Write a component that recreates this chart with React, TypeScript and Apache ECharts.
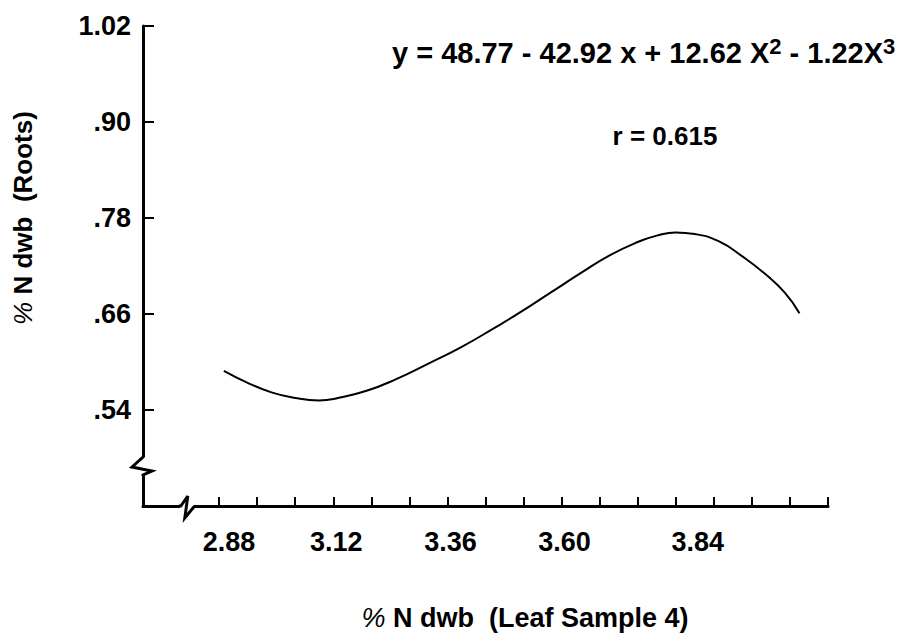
import React, { useEffect, useRef } from 'react';
import * as echarts from 'echarts';

// ---- data ----
const xTickValues = [2.88, 2.96, 3.04, 3.12, 3.2, 3.28, 3.36, 3.44, 3.52, 3.6, 3.68, 3.76, 3.84, 3.92, 4.0, 4.08, 4.16];
const xLabelValues = [2.88, 3.12, 3.36, 3.6, 3.84];
const yTickValues = [0.54, 0.66, 0.78, 0.9, 1.02];
const curveX = [2.89, 2.94, 2.99, 3.04, 3.09, 3.13, 3.19, 3.25, 3.32, 3.39, 3.46, 3.51, 3.58, 3.64, 3.7, 3.76, 3.8, 3.84, 3.88, 3.93, 3.98, 4.03, 4.07, 4.1];
const curveY = [0.589, 0.574, 0.562, 0.555, 0.552, 0.555, 0.564, 0.578, 0.598, 0.619, 0.643, 0.661, 0.688, 0.711, 0.733, 0.75, 0.758, 0.762, 0.76, 0.751, 0.732, 0.709, 0.686, 0.661];
const equationText = 'y = 48.77 - 42.92 x + 12.62 X{s|2} - 1.22X{s|3}';
const rText = 'r = 0.615';
const xTitle = '{p|%} N dwb  (Leaf Sample 4)';
const yTitle = '{p|%} N dwb  (Roots)';

const X_MIN = 2.72;
const X_MAX = 4.16;
const Y_MIN = 0.42;
const Y_MAX = 1.02;
const X_BREAK = 2.81;
const Y_BREAK = 0.47;

const FONT = "'Liberation Sans', Arial, Helvetica, sans-serif";

// small hand-placement nudges of the x tick labels in the original drawing (px)
const labelNudge = (v: number) => (Math.abs(v - 2.88) < 1e-6 ? 10 : Math.abs(v - 3.84) < 1e-6 ? 22 : 3);

export default function App() {
  const ref = useRef<HTMLDivElement>(null);

  useEffect(() => {
    if (!ref.current) return;
    const chart = echarts.init(ref.current, null, { renderer: 'svg' });
    const data = curveX.map((x, i) => [x, curveY[i]]);

    chart.setOption({
      animation: false,
      backgroundColor: '#ffffff',
      grid: { left: 143, top: 26, right: 77, bottom: 136, containLabel: false },
      xAxis: {
        type: 'value',
        min: X_MIN,
        max: X_MAX,
        axisLine: { show: true, lineStyle: { color: '#000', width: 3 } },
        axisTick: { show: true, inside: true, length: 9, lineStyle: { color: '#000', width: 2 }, customValues: xTickValues },
        axisLabel: {
          show: true,
          customValues: xLabelValues,
          formatter: (v: number) => v.toFixed(2),
          color: '#000',
          fontFamily: FONT,
          fontWeight: 'bold',
          fontSize: 27,
          margin: 22,
          padding: 0,
        },
        splitLine: { show: false },
      },
      yAxis: {
        type: 'value',
        min: Y_MIN,
        max: Y_MAX,
        axisLine: { show: true, lineStyle: { color: '#000', width: 3 } },
        axisTick: { show: true, inside: true, length: 11, lineStyle: { color: '#000', width: 2 }, customValues: yTickValues },
        axisLabel: {
          show: true,
          customValues: yTickValues,
          formatter: (v: number) => v.toFixed(2).replace(/^0/, ''),
          color: '#000',
          fontFamily: FONT,
          fontWeight: 'bold',
          fontSize: 27,
          margin: 12,
          padding: [0, 0, 16, 0],
        },
        splitLine: { show: false },
      },
      series: [
        {
          type: 'line',
          data,
          smooth: 0.5,
          symbol: 'none',
          lineStyle: { color: '#000', width: 2 },
        },
      ],
    });

    // apply label nudges via rich padding
    chart.setOption({
      xAxis: {
        axisLabel: {
          formatter: (v: number) => `{n${Math.round(v * 100)}|${v.toFixed(2)}}`,
          rich: Object.fromEntries(
            xLabelValues.map((v) => [
              `n${Math.round(v * 100)}`,
              { fontFamily: FONT, fontWeight: 'bold', fontSize: 27, color: '#000', padding: [0, 0, 0, labelNudge(v) * 2] },
            ])
          ),
        },
      },
    });

    const [bx, by] = chart.convertToPixel({ gridIndex: 0 }, [X_BREAK, Y_MIN]) as number[];
    const [yx, yy] = chart.convertToPixel({ gridIndex: 0 }, [X_MIN, Y_BREAK]) as number[];

    chart.setOption({
      graphic: [
        // x-axis break
        { type: 'rect', shape: { x: bx - 6, y: by - 3, width: 15, height: 6 }, style: { fill: '#fff' }, z: 100 },
        {
          type: 'polyline',
          shape: { points: [[bx - 7, by], [bx - 5, by], [bx + 2, by - 10], [bx - 1, by + 12], [bx + 8, by + 1], [bx + 10, by]] },
          style: { stroke: '#000', lineWidth: 3, fill: null },
          z: 101,
        },
        // y-axis break
        { type: 'rect', shape: { x: yx - 3, y: yy - 9, width: 6, height: 18 }, style: { fill: '#fff' }, z: 100 },
        {
          type: 'polyline',
          shape: { points: [[yx, yy - 10], [yx, yy - 9], [yx - 11, yy + 1], [yx + 9, yy + 5], [yx, yy + 9], [yx, yy + 10]] },
          style: { stroke: '#000', lineWidth: 3, fill: null },
          z: 101,
        },
        // equation
        {
          type: 'text',
          left: 392,
          top: 35,
          style: {
            text: equationText,
            fill: '#000',
            fontFamily: FONT,
            fontWeight: 'bold',
            fontSize: 29,
            lineHeight: 35,
            rich: {
              s: { fontFamily: FONT, fontWeight: 'bold', fontSize: 22, lineHeight: 35, verticalAlign: 'top', fill: '#000' },
            },
          },
        },
        {
          type: 'text',
          x: 665,
          y: 136,
          style: {
            text: rText,
            fill: '#000',
            fontFamily: FONT,
            fontWeight: 'bold',
            fontSize: 26,
            align: 'center',
            verticalAlign: 'middle',
          },
        },
        // x title
        {
          type: 'text',
          x: 525,
          y: 618,
          style: {
            text: xTitle,
            fill: '#000',
            fontFamily: FONT,
            fontWeight: 'bold',
            fontSize: 27,
            align: 'center',
            verticalAlign: 'middle',
            rich: { p: { fontFamily: FONT, fontWeight: 'normal', fontStyle: 'italic', fontSize: 27, fill: '#000' } },
          },
        },
        // y title
        {
          type: 'text',
          x: 23,
          y: 218,
          rotation: Math.PI / 2,
          style: {
            text: yTitle,
            fill: '#000',
            fontFamily: FONT,
            fontWeight: 'bold',
            fontSize: 26,
            align: 'center',
            verticalAlign: 'middle',
            rich: { p: { fontFamily: FONT, fontWeight: 'normal', fontStyle: 'italic', fontSize: 26, fill: '#000' } },
          },
        },
      ],
    });

    return () => chart.dispose();
  }, []);

  return (
    <div
      ref={ref}
      style={{ position: 'absolute', left: 0, top: 0, width: 905, height: 642, background: '#fff' }}
    />
  );
}
